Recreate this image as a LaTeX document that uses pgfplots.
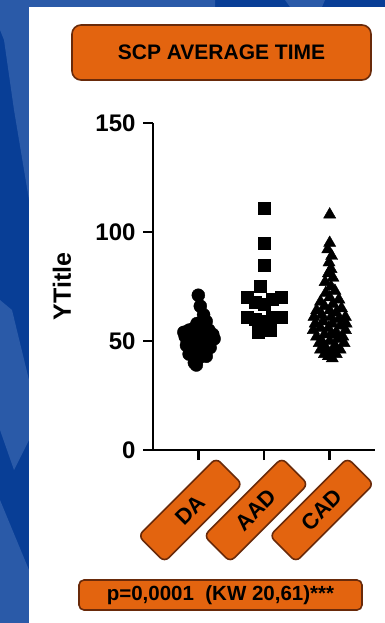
\documentclass[border=0pt]{standalone}
\usepackage{pgfplots}
\pgfplotsset{compat=1.18}
\usepackage{fontspec}
\setmainfont{Liberation Sans}
\definecolor{bgblue}{RGB}{8,62,150}
\definecolor{lightblue}{RGB}{42,90,168}
\definecolor{orangeb}{RGB}{227,100,15}
\definecolor{brownb}{RGB}{105,42,10}
\begin{document}
\begin{tikzpicture}
% background
\fill[bgblue] (0pt,0pt) rectangle (385pt,-623pt);
\fill[lightblue] (0pt,0pt) -- (215pt,0pt) -- (215pt,-7pt) -- (29pt,-7pt) -- (29pt,-200pt) -- (14pt,-110pt) -- (4pt,-40pt) -- (0pt,-30pt) -- cycle;
\fill[lightblue] (285pt,0pt) -- (325pt,0pt) -- (322pt,-7pt) -- (290pt,-7pt) -- cycle;
\fill[lightblue] (0pt,-300pt) -- (12pt,-310pt) -- (29pt,-380pt) -- (29pt,-440pt) -- (14pt,-470pt) -- (0pt,-430pt) -- cycle;
\fill[lightblue] (0pt,-500pt) -- (29pt,-570pt) -- (29pt,-623pt) -- (0pt,-623pt) -- cycle;
\fill[white] (29pt,-7pt) rectangle (385pt,-623pt);
% title
\node[draw=brownb, line width=1.6pt, fill=orangeb, rounded corners=9pt,
      minimum width=299pt, minimum height=55pt, inner sep=0pt,
      font=\fontsize{21}{24}\selectfont\bfseries] at (221.5pt,-52.5pt) {SCP AVERAGE TIME};
% p-value
\node[draw=brownb, line width=1.6pt, fill=orangeb, rounded corners=5pt,
      minimum width=283pt, minimum height=30pt, inner sep=0pt,
      font=\fontsize{20.5}{22}\selectfont\bfseries] at (220.5pt,-595pt) {p=0,0001\ \ (KW 20,61)***};
\begin{axis}[
  at={(153pt,-450pt)}, anchor=south west,
  scale only axis, width=222pt, height=327pt,
  xmin=0.31, xmax=3.69, ymin=0, ymax=150,
  axis x line*=bottom, axis y line*=left,
  axis line style={line width=2.5pt, black},
  tick style={line width=2.5pt, black},
  tick align=outside, major tick length=10pt,
  xtick={1,2,3}, xticklabels={DA,AAD,CAD},
  ytick={0,50,100,150},
  /pgf/number format/assume math mode=true,
  yticklabel style={font=\fontsize{24}{26}\selectfont\bfseries, xshift=-4pt},
  xticklabel style={font=\fontsize{22}{24}\selectfont\bfseries,
     draw=brownb, line width=1.6pt, fill=orangeb, rounded corners=6pt,
     minimum width=110pt, minimum height=37pt, inner sep=0pt,
     anchor=center, xshift=-8pt, yshift=-50pt, rotate=45},
  ylabel={YTitle},
  ylabel style={font=\fontsize{25}{28}\selectfont\bfseries,
     at={(axis description cs:-0.41,0.5)}, anchor=center},
  clip=false,
]
% DA
\addplot[only marks, mark=*, mark size=6.5pt, black] coordinates {
(1.00,71) (1.03,66) (1.08,62) (1.12,59) (0.98,58) (1.10,57) (0.94,56)
(1.16,55) (0.86,55) (1.04,54) (0.78,54) (1.22,53) (0.92,53) (1.10,52)
(0.80,52) (1.00,51) (1.24,51) (0.86,50) (1.14,50) (0.96,49) (1.08,48)
(0.82,48) (1.18,47) (0.92,46) (1.06,45) (0.86,44) (1.12,43) (1.00,42)
(0.94,40) (0.97,39)
};
% AAD
\addplot[only marks, mark=square*, mark size=6pt, black] coordinates {
(2.00,111) (2.00,95) (2.00,85) (1.94,75)
(1.74,70) (1.87,68) (2.00,67) (2.13,69) (2.26,70)
(1.74,61) (1.87,60) (2.00,59) (2.13,61) (2.26,61)
(1.91,54) (2.10,55)
};
% CAD
\addplot[only marks, mark=triangle*, mark size=7pt, black] coordinates {
(3.00,108)
(3.00,95) (2.97,92) (3.03,89) (2.99,86) (3.02,83) (2.98,81)
(3.05,79) (2.93,77) (3.02,75) (3.08,73) (2.94,72) (3.00,70)
(3.14,69) (2.86,68) (3.05,67) (2.92,66) (3.18,65) (2.80,64) (3.00,64)
(3.10,63) (2.88,62) (3.24,61) (2.76,61) (3.02,61)
(3.14,60) (2.90,59) (3.25,58) (2.78,58) (3.04,58)
(3.16,57) (2.86,56) (2.98,56) (3.24,55) (2.75,55)
(3.10,54) (2.92,53) (3.02,53) (3.20,52) (2.80,52)
(3.12,51) (2.88,50) (3.00,50) (3.22,49) (2.84,49)
(3.08,48) (2.94,47) (3.16,46) (2.86,46) (3.04,45)
(2.92,44) (3.10,44) (2.98,43) (3.04,42)
};
\end{axis}
\end{tikzpicture}
\end{document}
